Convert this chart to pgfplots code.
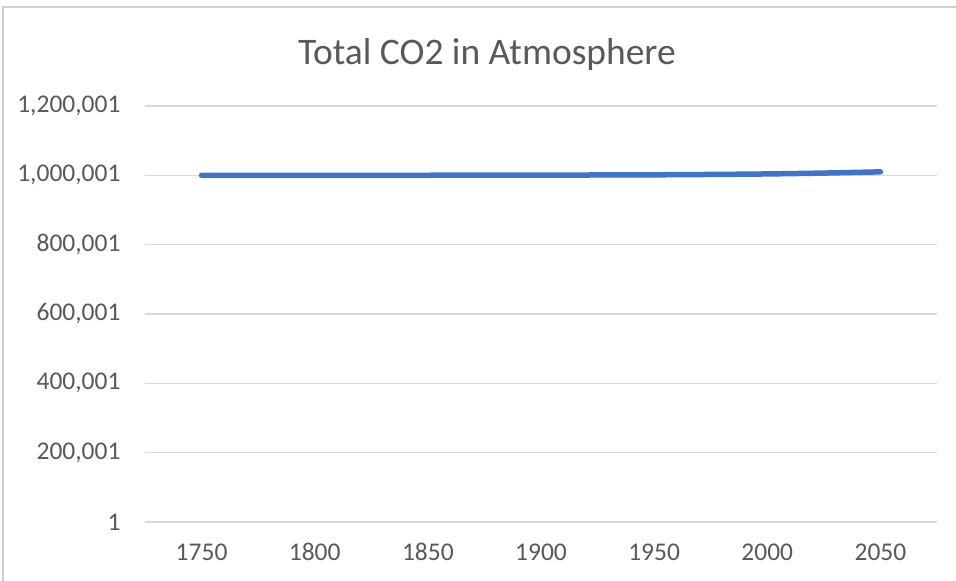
\documentclass[border=0pt]{standalone}
\usepackage{pgfplots}
\pgfplotsset{compat=1.18}
\usepackage{fontspec}
\setmainfont{Carlito}
\definecolor{txt}{HTML}{595959}
\definecolor{grd}{HTML}{D9D9D9}
\definecolor{ln}{HTML}{4472C4}
\definecolor{frm}{HTML}{D0D0D0}
\begin{document}
\begin{tikzpicture}[x=1bp,y=1bp]
\useasboundingbox (0,0) rectangle (956,581);
\fill[white] (0,0) rectangle (956,581);
\draw[frm,line width=1.2bp] (3,0) -- (3,574) -- (956,574);
\node[text=txt,font=\fontsize{37.5bp}{40bp}\selectfont,anchor=center] at (487,526) {Total CO2 in Atmosphere};
\begin{axis}[
  at={(145bp,59bp)}, anchor=south west,
  scale only axis, width=792bp, height=416bp,
  xmin=1725, xmax=2075, ymin=1, ymax=1200001,
  axis line style={draw=none},
  axis x line*=bottom,
  xtick={1750,1800,...,2050},
  ytick={1,200001,400001,600001,800001,1000001,1200001},
  major tick length=0pt,
  ymajorgrids, grid style={grd,line width=1.2bp},
  xticklabel style={text=txt,font=\fontsize{25.5bp}{28bp}\selectfont, yshift=-18bp},
  yticklabel style={text=txt,font=\fontsize{25.5bp}{28bp}\selectfont, xshift=-21bp},
  /pgf/number format/assume math mode=true,
  x tick label style={/pgf/number format/1000 sep={}},
  y tick label style={/pgf/number format/.cd, fixed, precision=0, 1000 sep={,}},
  scaled y ticks=false,
  clip=false,
]
\addplot[ln, line width=5.5bp, line cap=round, smooth] coordinates {
(1750,1000001) (1800,1000050) (1850,1000200) (1900,1000600) (1950,1001500)
(1975,1002500) (2000,1004000) (2025,1006500) (2050,1010000)};
\end{axis}
\end{tikzpicture}
\end{document}
